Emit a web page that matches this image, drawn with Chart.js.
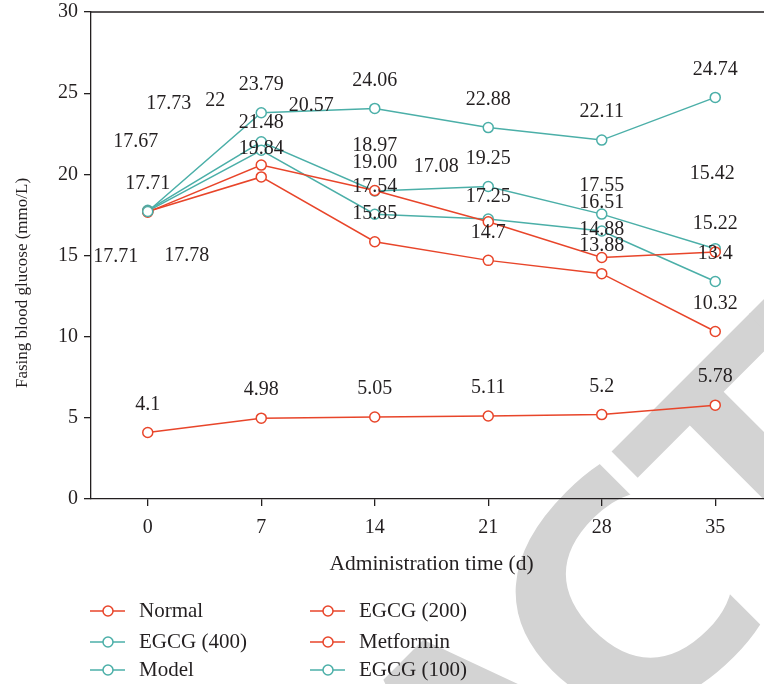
<!DOCTYPE html>
<html>
<head>
<meta charset="utf-8">
<script src="https://cdn.jsdelivr.net/npm/chart.js@4.4.1/dist/chart.umd.min.js"></script>
<style>
  html, body { margin: 0; padding: 0; background: #fff; overflow: hidden; width: 764px; height: 684px; }
  #wrap { width: 780px; height: 684px; }
</style>
</head>
<body>
<div id="wrap"><canvas id="c" width="780" height="684"></canvas></div>
<script>
// Administration days and axis ticks
const days = [0, 7, 14, 21, 28, 35];
const yTicks = [0, 5, 10, 15, 20, 25, 30];

// Fasting blood glucose (mmol/L) per group, as printed on each point
const normal    = ['4.1', '4.98', '5.05', '5.11', '5.2', '5.78'];
const egcg400   = ['17.73', '21.48', '17.54', '17.25', '16.51', '13.4'];
const model     = ['17.71', '23.79', '24.06', '22.88', '22.11', '24.74'];
const egcg200   = ['17.67', '20.57', '19.00', '17.08', '14.88', '15.22'];
const metformin = ['17.71', '19.84', '15.85', '14.7', '13.88', '10.32'];
const egcg100   = ['17.78', '22', '18.97', '19.25', '17.55', '15.42'];

const ORANGE = '#e8452a';
const TEAL = '#4bafa8';
const INK = '#231f20';
const FONT = '"Liberation Serif", "DejaVu Serif", serif';

// Value-label nudges in px (dx, dy) where labels would otherwise collide
const nudges = {
  'Normal':    {},
  'EGCG (400)': { 0: [21, -79], 3: [0, 6] },
  'Model':     {},
  'EGCG (200)': { 0: [-12, -42], 1: [50, -31], 3: [-52, -27] },
  'Metformin': { 0: [-32, 73] },
  'EGCG (100)': { 0: [39, 73], 1: [-46, -13], 2: [0, -17], 5: [-3, -47] }
};

function series(label, values, color, order) {
  return {
    label,
    labels: values,
    data: values.map((v, i) => ({ x: days[i], y: Number(v) })),
    borderColor: color,
    backgroundColor: '#fff',
    pointBackgroundColor: '#fff',
    pointBorderColor: color,
    borderWidth: 1.5,
    pointRadius: 5,
    pointBorderWidth: 1.5,
    tension: 0,
    order
  };
}

const datasets = [
  series('Normal', normal, ORANGE, 3),
  series('EGCG (400)', egcg400, TEAL, 4),
  series('Model', model, TEAL, 0),
  series('EGCG (200)', egcg200, ORANGE, 1),
  series('Metformin', metformin, ORANGE, 2),
  series('EGCG (100)', egcg100, TEAL, 5)
];

// Grey diagonal stamp behind the plot; letter centres in em units from the "C"
const stampLetters = [
  ['R', -3.05], ['E', -2.45], ['T', -1.88], ['R', -1.30], ['A', -0.678],
  ['C', 0], ['T', 0.503], ['E', 1.06], ['D', 1.65]
];
const stampPlugin = {
  id: 'stamp',
  beforeDraw(chart) {
    const ctx = chart.ctx;
    const S = 332;
    ctx.save();
    ctx.fillStyle = '#d3d3d3';
    ctx.font = 'bold ' + S + 'px "Liberation Sans", Arial, sans-serif';
    ctx.textBaseline = 'alphabetic';
    ctx.textAlign = 'center';
    ctx.translate(640, 578);
    ctx.rotate(-Math.PI / 4);
    stampLetters.forEach(([ch, pos]) => {
      ctx.save();
      ctx.translate(pos * S, 0);
      if (ch === 'C') {
        // round, wide-open C: stretch and trim the terminals square
        ctx.beginPath();
        ctx.rect(-S, -S, S + 0.157 * S, 2 * S);
        ctx.clip();
        ctx.scale(1.2, 1);
      }
      ctx.fillText(ch, 0, 0.358 * S);
      ctx.restore();
    });
    ctx.restore();
  }
};

// Top frame line, value labels, axis titles and the two-column legend
const decorPlugin = {
  id: 'decor',
  afterDatasetsDraw(chart) {
    const ctx = chart.ctx;
    const area = chart.chartArea;
    ctx.save();
    ctx.strokeStyle = INK;
    ctx.lineWidth = 1.3;
    ctx.beginPath();
    ctx.moveTo(area.left, area.top);
    ctx.lineTo(area.right, area.top);
    ctx.stroke();

    ctx.fillStyle = INK;
    ctx.font = '20px ' + FONT;
    ctx.textAlign = 'center';
    ctx.textBaseline = 'middle';
    chart.data.datasets.forEach((ds, di) => {
      const meta = chart.getDatasetMeta(di);
      const nd = nudges[ds.label] || {};
      meta.data.forEach((pt, i) => {
        const n = nd[i] || [0, 0];
        ctx.fillText(ds.labels[i], pt.x + n[0], pt.y - 28 + n[1]);
      });
    });
    ctx.restore();
  },
  afterDraw(chart) {
    const ctx = chart.ctx;
    const area = chart.chartArea;
    ctx.save();
    ctx.fillStyle = INK;
    ctx.textAlign = 'center';
    ctx.textBaseline = 'middle';
    ctx.font = '21.5px ' + FONT;
    ctx.fillText('Administration time (d)', (area.left + area.right) / 2, 564);

    ctx.save();
    ctx.font = '17px ' + FONT;
    ctx.translate(23, 283);
    ctx.rotate(-Math.PI / 2);
    ctx.fillText('Fasing blood glucose (mmo/L)', 0, 0);
    ctx.restore();

    // legend: column by column, three rows each
    ctx.font = '21px ' + FONT;
    const cols = [90, 310];
    const rows = [611, 642, 670];
    const ds = chart.data.datasets;
    ds.forEach((d, i) => {
      const x0 = cols[Math.floor(i / 3)];
      const y0 = rows[i % 3];
      ctx.strokeStyle = d.borderColor;
      ctx.lineWidth = 1.5;
      ctx.beginPath();
      ctx.moveTo(x0, y0);
      ctx.lineTo(x0 + 35, y0);
      ctx.stroke();
      ctx.beginPath();
      ctx.arc(x0 + 18, y0, 5, 0, Math.PI * 2);
      ctx.fillStyle = '#fff';
      ctx.fill();
      ctx.stroke();
      ctx.fillStyle = INK;
      ctx.textAlign = 'left';
      ctx.fillText(d.label, x0 + 49, y0);
    });
    ctx.restore();
  }
};

new Chart(document.getElementById('c'), {
  type: 'line',
  data: { datasets },
  options: {
    responsive: false,
    animation: false,
    devicePixelRatio: 1,
    layout: { padding: { top: 12, right: 8, left: 0, bottom: 0 } },
    plugins: { legend: { display: false }, tooltip: { enabled: false } },
    scales: {
      x: {
        type: 'linear',
        min: -3.5,
        max: 38.5,
        afterBuildTicks: (s) => { s.ticks = days.map(v => ({ value: v })); },
        afterFit: (s) => { s.height = 185; s.paddingLeft = 0; s.paddingRight = 0; },
        grid: { display: true, drawOnChartArea: false, drawTicks: true, tickLength: 7, color: INK, lineWidth: 1.3 },
        border: { display: true, color: INK, width: 1.3 },
        ticks: { color: INK, font: { family: FONT, size: 20 }, padding: 10, maxRotation: 0 }
      },
      y: {
        type: 'linear',
        min: 0,
        max: 30,
        afterBuildTicks: (s) => { s.ticks = yTicks.map(v => ({ value: v })); },
        afterFit: (s) => { s.width = 91; s.paddingTop = 0; s.paddingBottom = 0; },
        grid: { display: true, drawOnChartArea: false, drawTicks: true, tickLength: 7, color: INK, lineWidth: 1.3 },
        border: { display: true, color: INK, width: 1.3 },
        ticks: { color: INK, font: { family: FONT, size: 20 }, padding: 6 }
      }
    }
  },
  plugins: [stampPlugin, decorPlugin]
});
</script>
</body>
</html>
